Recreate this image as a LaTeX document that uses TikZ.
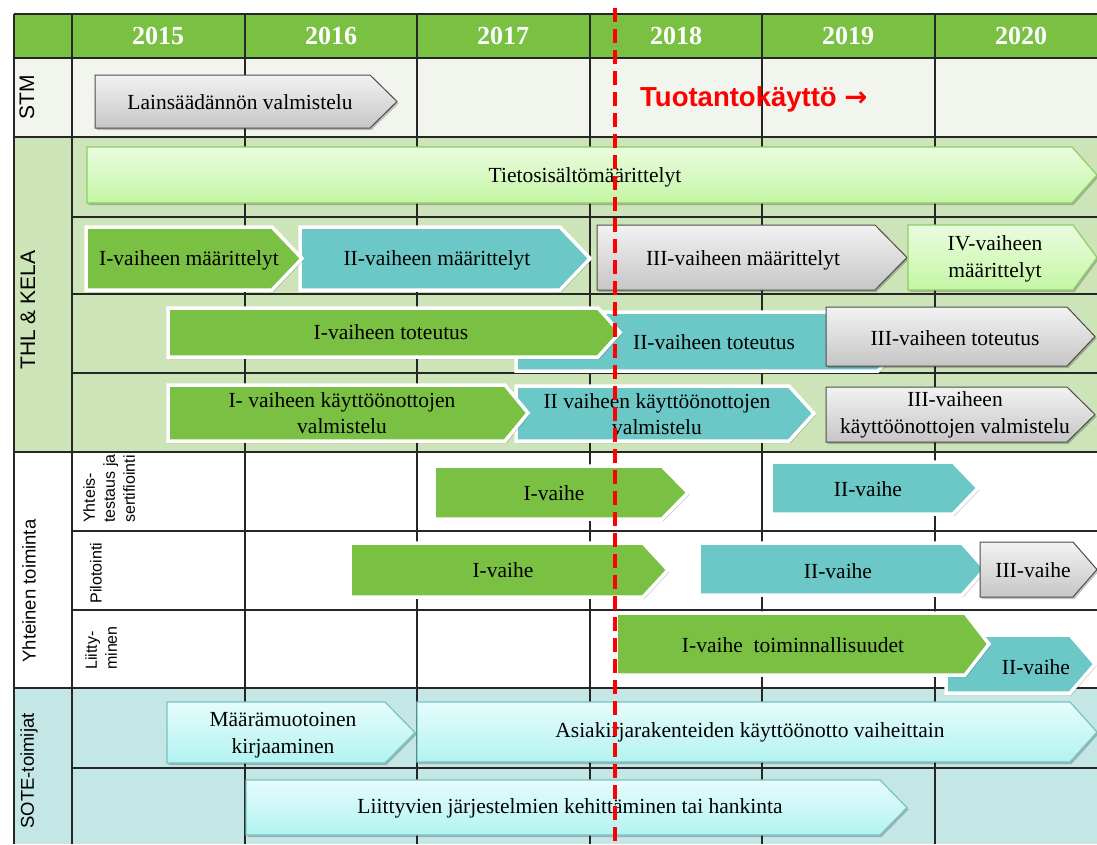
\documentclass[tikz,border=0pt]{standalone}
\usepackage{fontspec}
\setmainfont{Liberation Serif}
\setsansfont{Liberation Sans}
\newfontfamily\arrowfont{DejaVu Sans}
\usetikzlibrary{shadows}

\definecolor{hdrgreen}{RGB}{122,193,67}
\definecolor{stmbg}{RGB}{241,245,238}
\definecolor{thlbg}{RGB}{204,228,184}
\definecolor{sotebg}{RGB}{196,230,228}
\definecolor{bargreen}{RGB}{122,192,66}
\definecolor{barteal}{RGB}{107,200,198}
\definecolor{paletop}{RGB}{234,252,224}
\definecolor{palebot}{RGB}{196,246,164}
\definecolor{paleedge}{RGB}{140,206,100}
\definecolor{cyantop}{RGB}{230,252,252}
\definecolor{cyanbot}{RGB}{178,243,240}
\definecolor{cyanedge}{RGB}{118,196,194}
\definecolor{graytop}{RGB}{242,242,242}
\definecolor{graybot}{RGB}{198,198,198}
\definecolor{milestone}{RGB}{255,0,0}

% chevron bar: style, left x, top y, body end x, bottom y, tip x
\newcommand\ganttbar[6]{%
  \path[#1] (#2,#3) -- (#4,#3) -- (#6,{(#3+#5)/2}) -- (#4,#5) -- (#2,#5) -- cycle;}

\begin{document}
\begin{tikzpicture}[x=1pt,y=-1pt,
  gridline/.style={draw=black!85, line width=1.3},
  softshadow/.style={drop shadow={shadow xshift=1.5pt, shadow yshift=-2pt, opacity=0.22, fill=black}},
  solidbar/.style={draw=white, line width=3.5, line join=miter, softshadow},
  greenbar/.style={solidbar, fill=bargreen},
  tealbar/.style={solidbar, fill=barteal},
  graybar/.style={draw=black!70, line width=1, top color=graytop, bottom color=graybot, softshadow},
  palebar/.style={draw=paleedge, line width=1.2, top color=paletop, bottom color=palebot, softshadow},
  cyanbar/.style={draw=cyanedge, line width=1.2, top color=cyantop, bottom color=cyanbot, softshadow},
  bartext/.style={font=\fontsize{21.5}{26.5}\selectfont, align=center, inner sep=0pt},
  yeartext/.style={font=\fontsize{26}{30}\selectfont\bfseries, text=white, inner sep=0pt},
  grouptext/.style={font=\sffamily, rotate=90, inner sep=0pt},
  subtext/.style={font=\sffamily\fontsize{16}{20}\selectfont, rotate=90, align=left, inner sep=0pt},
]
\useasboundingbox (0,0) rectangle (1097,844);
\clip (0,0) rectangle (1097,844);

% section backgrounds
\fill[hdrgreen] (14,14) rectangle (1097,58);
\fill[stmbg] (14,58) rectangle (1097,137);
\fill[thlbg] (14,137) rectangle (1097,452);
\fill[white] (14,452) rectangle (1097,688);
\fill[sotebg] (14,688) rectangle (1097,844);

% table rules
\foreach \yy in {14,58,137,452,688} \draw[gridline] (14,\yy) -- (1097,\yy);
\foreach \yy in {217,294,373,531,610,768} \draw[gridline] (72,\yy) -- (1097,\yy);
\foreach \xx in {14,72,245,417,590,762,935} \draw[gridline] (\xx,14) -- (\xx,844);

% year header
\node[yeartext] (y2015) at (158,36) {2015};
\node[yeartext] (y2016) at (331,36) {2016};
\node[yeartext] (y2017) at (503,36) {2017};
\node[yeartext] (y2018) at (676,36) {2018};
\node[yeartext] (y2019) at (848,36) {2019};
\node[yeartext] (y2020) at (1021,36) {2020};

% group labels
\node[grouptext, font=\sffamily\fontsize{21}{25}\selectfont] (stm) at (27,97) {STM};
\node[grouptext, font=\sffamily\fontsize{21}{25}\selectfont] (thl) at (28,310) {THL \& KELA};
\node[grouptext, font=\sffamily\fontsize{18.5}{22}\selectfont] (yht) at (29,591) {Yhteinen toiminta};
\node[grouptext, font=\sffamily\fontsize{18.5}{22}\selectfont] (sote) at (29,771) {SOTE-toimijat};

% sub-row labels of the joint activities
\node[subtext, anchor=north west] (yteslbl) at (83,523) {Yhteis-\\testaus ja\\sertifiointi};
\node[subtext] (pilotlbl) at (96,573) {Pilotointi};
\node[subtext, anchor=north west] (liitlbl) at (85,670) {Liitty-\\minen};

% STM
\ganttbar{graybar}{95}{75}{370}{128}{397}
\node[bartext] (lains) at (240,102) {Lainsäädännön valmistelu};

% THL & KELA: content definitions
\ganttbar{palebar}{87}{147}{1072}{203}{1097}
\node[bartext] (tieto) at (585,177) {Tietosisältömäärittelyt};

% THL & KELA: phase definitions
\ganttbar{tealbar}{300}{227}{560}{290}{590}
\ganttbar{greenbar}{86}{227}{272}{290}{302}
\ganttbar{graybar}{597}{225}{875}{290}{907}
\ganttbar{palebar}{908}{225}{1073}{290}{1097}
\node[bartext] (maar1) at (189,260) {I-vaiheen määrittelyt};
\node[bartext] (maar2) at (437,260) {II-vaiheen määrittelyt};
\node[bartext] (maar3) at (743,260) {III-vaiheen määrittelyt};
\node[bartext] (maar4) at (995,259) {IV-vaiheen\\määrittelyt};

% THL & KELA: implementation
\ganttbar{tealbar}{516}{312}{878}{371}{905}
\ganttbar{greenbar}{168}{308}{598}{357}{620}
\ganttbar{graybar}{826}{307}{1067}{366}{1095}
\node[bartext] (tot1) at (391,332) {I-vaiheen toteutus};
\node[bartext] (tot2) at (714,342) {II-vaiheen toteutus};
\node[bartext] (tot3) at (955,338) {III-vaiheen toteutus};

% THL & KELA: deployment preparation
\ganttbar{tealbar}{516}{386}{789}{441}{814}
\ganttbar{greenbar}{168}{385}{505}{441}{528}
\ganttbar{graybar}{826}{387}{1067}{442}{1095}
\node[bartext] (kay1) at (342,413) {I- vaiheen käyttöönottojen\\valmistelu};
\node[bartext] (kay2) at (657,414) {II vaiheen käyttöönottojen\\valmistelu};
\node[bartext] (kay3) at (955,415) {III-vaiheen\\käyttöönottojen valmistelu};

% joint activities: testing and certification
\ganttbar{greenbar}{434}{466}{662}{519}{688}
\ganttbar{tealbar}{771}{462}{953}{514}{978}
\node[bartext] (yt1) at (554,493) {I-vaihe};
\node[bartext] (yt2) at (868,489) {II-vaihe};

% joint activities: piloting
\ganttbar{greenbar}{350}{543}{643}{597}{668}
\ganttbar{tealbar}{699}{543}{962}{595}{985}
\ganttbar{graybar}{980}{542}{1073}{597}{1097}
\node[bartext] (pil1) at (503,570) {I-vaihe};
\node[bartext] (pil2) at (838,571) {II-vaihe};
\node[bartext] (pil3) at (1033,570) {III-vaihe};

% joint activities: joining
\ganttbar{tealbar}{946}{635}{1070}{693}{1095}
\ganttbar{greenbar}{616}{613}{965}{675}{989}
\node[bartext] (lii1) at (793,645) {I-vaihe\ \ toiminnallisuudet};
\node[bartext] (lii2) at (1036,667) {II-vaihe};

% SOTE actors
\ganttbar{cyanbar}{167}{702}{385}{763}{415}
\ganttbar{cyanbar}{417}{702}{1070}{762}{1097}
\ganttbar{cyanbar}{246}{780}{880}{835}{907}
\node[bartext] (kirj) at (283,735) {Määrämuotoinen\\kirjaaminen};
\node[bartext] (asia) at (750,732) {Asiakirjarakenteiden käyttöönotto vaiheittain};
\node[bartext] (jarj) at (570,808) {Liittyvien järjestelmien kehittäminen tai hankinta};

% production use milestone
\coordinate (mtop) at (615,8);
\coordinate (mbot) at (615,844);
\draw[milestone, line width=4.5, dash pattern=on 14pt off 7pt] (mtop) -- (mbot);
\node[anchor=west, inner sep=0pt, text=milestone, font=\sffamily\bfseries\fontsize{27.5}{30}\selectfont] (prod) at (640,99) {Tuotantokäyttö {\arrowfont\bfseries →}};

\end{tikzpicture}
\end{document}
